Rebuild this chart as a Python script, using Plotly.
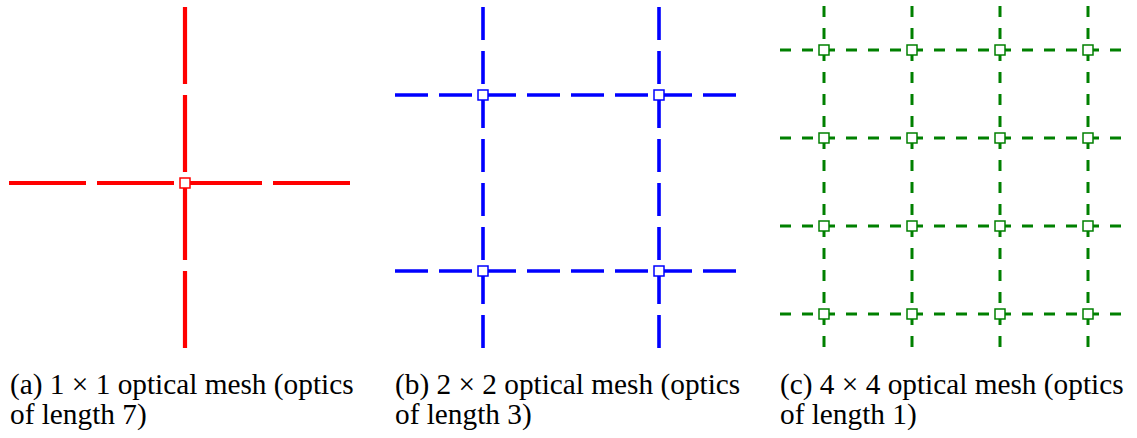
import plotly.graph_objects as go

# ---- data ----
panel_labels = ["(a)", "(b)", "(c)"]
mesh_sizes = [1, 2, 4]            # n x n optical mesh
optics_lengths = [7, 3, 1]        # length of each optic (dash length in quarter units)
line_colors = ["#ff0000", "#0000ff", "#008000"]
line_widths = [4.2, 3.6, 3.0]
caption_line1 = ["(a) 1 \u00d7 1 optical mesh (optics",
                 "(b) 2 \u00d7 2 optical mesh (optics",
                 "(c) 4 \u00d7 4 optical mesh (optics"]
caption_line2 = ["of length 7)", "of length 3)", "of length 1)"]

# ---- layout geometry (pixels) ----
W, H = 1137, 438
EXTENT = 8.0                 # each panel spans 0..8 units
UNIT_PX = 44.0               # one unit in pixels
QUARTER = UNIT_PX / 4        # 11 px
panel_x0 = [9, 395, 780]     # left pixel of each panel
panel_y0 = [7, 7, 6]         # top pixel of each panel
caption_x = [8, 393, 778]

fig = go.Figure()

for p in range(3):
    n = mesh_sizes[p]
    k = optics_lengths[p]
    col = line_colors[p]
    ax = "" if p == 0 else str(p + 1)
    xa, ya = "x" + ax, "y" + ax
    nodes = [(2 * i + 1) * EXTENT / (2 * n) for i in range(n)]
    dash = f"{k * QUARTER:g}px,{QUARTER:g}px"
    # horizontal lines (left -> right)
    for yv in nodes:
        fig.add_trace(go.Scatter(x=[0, EXTENT], y=[yv, yv], mode="lines",
                                 line=dict(color=col, width=line_widths[p], dash=dash),
                                 xaxis=xa, yaxis=ya, showlegend=False, hoverinfo="skip"))
    # vertical lines (top -> bottom)
    for xv in nodes:
        fig.add_trace(go.Scatter(x=[xv, xv], y=[0, EXTENT], mode="lines",
                                 line=dict(color=col, width=line_widths[p], dash=dash),
                                 xaxis=xa, yaxis=ya, showlegend=False, hoverinfo="skip"))
    # nodes
    mx = [xv for yv in nodes for xv in nodes]
    my = [yv for yv in nodes for xv in nodes]
    fig.add_trace(go.Scatter(x=mx, y=my, mode="markers",
                             marker=dict(symbol="square", size=10, color="white",
                                         line=dict(color=col, width=1.5)),
                             xaxis=xa, yaxis=ya, showlegend=False, hoverinfo="skip",
                             cliponaxis=False))

    x0 = panel_x0[p]
    y0 = panel_y0[p]
    span = EXTENT * UNIT_PX
    axis_common = dict(visible=False, showgrid=False, zeroline=False, fixedrange=True)
    fig.update_layout(**{
        "xaxis" + ax: dict(domain=[x0 / W, (x0 + span) / W], range=[0, EXTENT],
                           anchor="y" + ax, **axis_common),
        "yaxis" + ax: dict(domain=[1 - (y0 + span) / H, 1 - y0 / H], range=[EXTENT, 0],
                           anchor="x" + ax, **axis_common),
    })

    fig.add_annotation(text=caption_line1[p], xref="paper", yref="paper",
                       x=caption_x[p] / W, y=1 - 384 / H, xanchor="left", yanchor="middle",
                       showarrow=False, font=dict(family="Liberation Serif", size=29.3, color="black"))
    fig.add_annotation(text=caption_line2[p], xref="paper", yref="paper",
                       x=caption_x[p] / W, y=1 - 414 / H, xanchor="left", yanchor="middle",
                       showarrow=False, font=dict(family="Liberation Serif", size=29.3, color="black"))

fig.update_layout(width=W, height=H, margin=dict(l=0, r=0, t=0, b=0),
                  paper_bgcolor="white", plot_bgcolor="white")

fig.write_html("out.html", config={"displayModeBar": False, "staticPlot": True},
               post_script="document.body.style.margin='0';document.body.style.padding='0';")
